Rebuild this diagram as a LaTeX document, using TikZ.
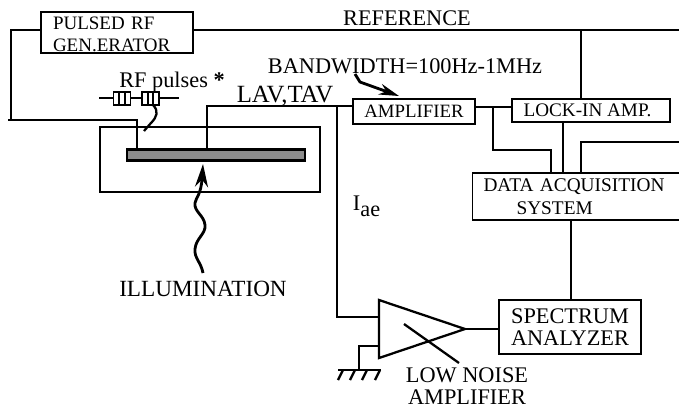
\documentclass[tikz,border=0pt]{standalone}
\usepackage{fontspec}
\setmainfont{Liberation Serif}
\usetikzlibrary{positioning, arrows.meta}

\begin{document}
\begin{tikzpicture}[x=0.02cm, y=-0.02cm, line width=1.1pt, >={Stealth[length=0.46cm, width=0.26cm]},
                    box/.style={draw, inner sep=0pt, align=center, font=\fontsize{11}{12.5}\selectfont},
                    label node/.style={inner sep=0pt, align=center, font=\fontsize{12.7}{12.5}\selectfont},
                    wire/.style={line width=1.3pt},
                    plug/.style={draw, fill=white, inner sep=0pt, minimum width=0.34cm, minimum height=0.27cm}]

    \useasboundingbox (0, 0) rectangle (679, 407);

    % Boxes
    \node[box, minimum width=3.04cm, minimum height=0.82cm, text width=3.04cm, align=left] (gen) at (117, 32.5) {\rule{0pt}{9.5pt}\hspace*{0.24cm}\fontsize{10.8}{12.5}\selectfont PULSED RF\\\hspace*{0.24cm}\fontsize{10.8}{12.5}\selectfont GEN.ERATOR};
    \node[box, minimum width=2.44cm, minimum height=0.5cm, font=\fontsize{10.7}{12}\selectfont]  (amp)  at (414, 111.5) {\raisebox{-1pt}{AMPLIFIER}};
    \node[box, minimum width=3.16cm, minimum height=0.46cm, font=\fontsize{10.9}{12}\selectfont] (lock) at (591, 110.5) {\hspace*{-0.14cm}\raisebox{-1.5pt}{LOCK-IN AMP.}};
    \node[box, minimum width=4.3cm, minimum height=0.94cm, text width=3.86cm, align=left] (daq) at (580, 196.5) {DATA ACQUISITION\\[0.03cm]\hspace*{0.66cm}SYSTEM};
    \node[box, minimum width=2.84cm, minimum height=1.08cm, font=\fontsize{12.7}{12.5}\selectfont] (spec) at (570, 327) {SPECTRUM\\ANALYZER};
    \node[box, minimum width=4.4cm, minimum height=1.3cm] (cell) at (210, 159.5) {};
    \node[draw, line width=1.5pt, fill=black!45, inner sep=0pt, minimum width=3.56cm, minimum height=0.22cm] (sample) at (216, 155) {};

    % Pulses
    \coordinate (pl) at (99, 98);
    \coordinate (pr) at (179, 98);
    \draw (pl) -- (pr);
    \node[plug] (plugA) at (122, 98.5) {};
    \node[plug] (plugB) at (150.5, 98.5) {};
    \draw (119, 92) -- (119, 105) (125, 92) -- (125, 105);
    \draw (148, 92) -- (148, 105) (153, 92) -- (153, 105);
    \draw[wire] (153, 105) .. controls (159, 111) and (157, 117) .. (151, 123) -- (144, 131);

    % Triangle
    \coordinate (triA) at (379, 300);
    \coordinate (triB) at (379, 358);
    \coordinate (triC) at (465, 329);
    \draw[wire] (triA) -- (triC) -- (triB) -- cycle;
    \coordinate (slashA) at (404, 324);
    \coordinate (slashB) at (459, 363);
    \draw[wire] (slashA) -- (slashB);

    % Ground
    \coordinate (gndA) at (379, 346);
    \coordinate (gndB) at (359, 346);
    \coordinate (gndC) at (359, 370);
    \draw[wire] (gndA) -- (gndB) -- (gndC);
    \draw[wire] (338, 370) -- (381, 370);
    \foreach \gx in {343, 355, 367, 380} {
        \draw[wire] (\gx, 370) -- (\gx-5, 380);
    }

    % Wires
    \coordinate (refEnd) at (679, 30);
    \coordinate (refJoin) at (581, 30);
    \draw (gen.east |- refEnd) -- (refEnd);
    \draw[wire] (refJoin) -- (refJoin |- lock.north);
    \draw[wire] (gen.west |- refEnd) -- (11, 30) -- (11, 120) -- (137, 120) -- (137, 0 |- sample.north);
    \draw (8, 120) -- (11, 120);
    \draw[wire] (207, 0 |- sample.north) -- (207, 106) -- (amp.west |- 0, 106);
    \coordinate (inJoin) at (337, 106);
    \coordinate (inLow) at (337, 317);
    \draw[wire] (inJoin) -- (inLow) -- (379, 317);
    \draw[wire] (amp.east |- 0, 107) -- (lock.west |- 0, 107);
    \draw[wire] (493, 107) -- (493, 150) -- (551, 150) -- (551, 0 |- daq.north);
    \draw[wire] (563, 0 |- lock.south) -- (563, 0 |- daq.north);
    \draw[wire] (581, 0 |- daq.north) -- (581, 142) -- (679, 142);
    \draw[wire] (571, 0 |- daq.south) -- (571, 0 |- spec.north);
    \draw[wire] (triC) -- (spec.west |- triC);

    % Arrows
    \coordinate (bwStart) at (355, 74);
    \coordinate (bwTip) at (399, 96);
    \draw[->, line width=1.6pt, >={Stealth[length=0.4cm, width=0.22cm]}] (bwStart) -- (360, 82) -- (bwTip);
    \coordinate (illumStart) at (203, 273);
    \coordinate (illumTip) at (203, 164);
    \draw[->, line width=1.6pt] (illumStart) .. controls (201, 262) and (194, 258) .. (195, 249) .. controls (196, 238) and (206, 234) .. (205, 225) .. controls (204, 215) and (194, 212) .. (195, 203) .. controls (196, 197) and (201, 195) .. (illumTip);

    % Labels
    \node[label node] (ref)   at (407, 18)  {REFERENCE};
    \node[label node] (bw)    at (405, 66)  {BANDWIDTH=100Hz-1MHz};
    \node[label node] (pulse) at (172, 82)  {RF pulses \textbf{*}};
    \node[label node, font=\fontsize{14.1}{14}\selectfont] (lav)   at (285, 96)  {LAV,TAV};
    \node[label node, anchor=west] (iae) at (352, 206) {I\raisebox{-3.5pt}{ae}};
    \node[label node, font=\fontsize{13.2}{14}\selectfont] (illum) at (203, 289) {ILLUMINATION};
    \node[label node] (lna)   at (467, 386) {LOW NOISE\\AMPLIFIER};

\end{tikzpicture}
\end{document}
